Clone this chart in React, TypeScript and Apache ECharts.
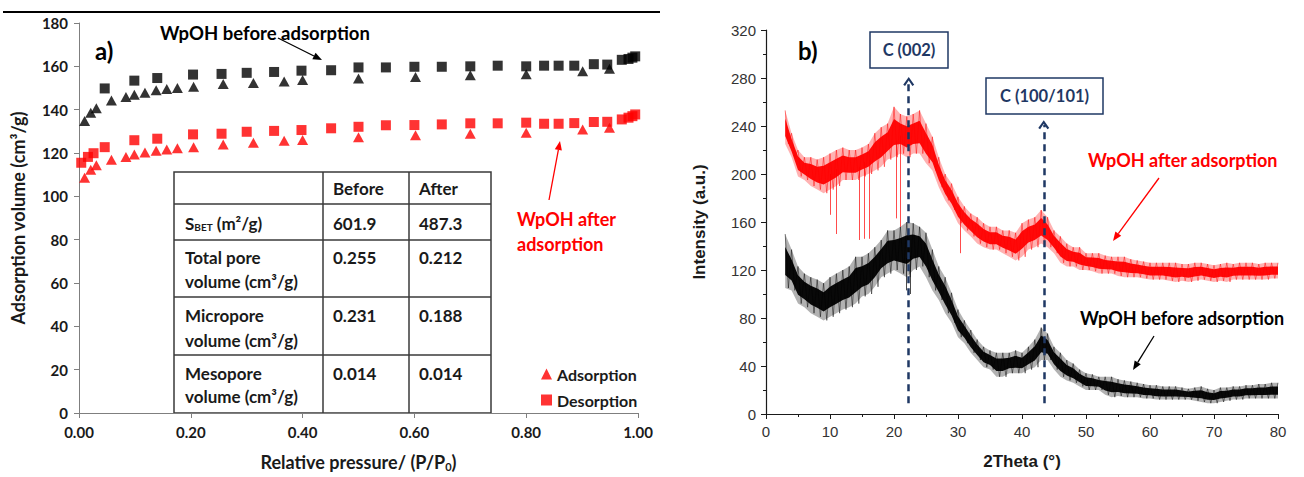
import React, { useEffect, useRef } from "react";
import * as echarts from "echarts";

// ---------- Panel a) N2 adsorption / desorption isotherms ----------
const adsorptionP = [0.01, 0.021, 0.031, 0.058, 0.084, 0.099, 0.118, 0.138, 0.157, 0.176, 0.205, 0.258, 0.312, 0.367, 0.4, 0.5, 0.602, 0.7, 0.8, 0.901, 0.949];
const beforeAdsorptionV = [134.8, 138.6, 140.6, 144.2, 145.9, 146.9, 147.8, 149.0, 149.5, 150.0, 150.6, 151.9, 152.3, 153.0, 153.7, 154.4, 155.1, 155.9, 156.3, 157.7, 158.9];
const afterAdsorptionV = [108.6, 112.3, 114.3, 116.9, 118.2, 119.3, 120.2, 121.0, 121.6, 122.2, 122.7, 123.9, 124.7, 125.6, 126.0, 127.3, 128.2, 128.9, 129.4, 130.9, 131.7];

const beforeDesorptionP = [0.046, 0.099, 0.14, 0.204, 0.255, 0.3, 0.349, 0.398, 0.451, 0.5, 0.549, 0.6, 0.649, 0.7, 0.749, 0.8, 0.832, 0.858, 0.886, 0.921, 0.945, 0.971, 0.983, 0.99, 0.995];
const beforeDesorptionV = [149.8, 153.4, 154.6, 156.2, 156.5, 157.0, 157.4, 158.0, 158.2, 159.5, 159.5, 159.8, 159.8, 160.0, 160.3, 160.0, 160.3, 160.3, 160.3, 161.0, 160.8, 163.0, 163.4, 164.0, 164.6];
const afterDesorptionP = [0.004, 0.016, 0.026, 0.046, 0.099, 0.14, 0.204, 0.255, 0.3, 0.349, 0.398, 0.451, 0.5, 0.549, 0.6, 0.649, 0.7, 0.749, 0.8, 0.832, 0.858, 0.886, 0.921, 0.945, 0.971, 0.983, 0.99, 0.995];
const afterDesorptionV = [115.5, 118.2, 119.9, 122.7, 125.9, 126.6, 128.6, 128.9, 129.8, 130.2, 130.6, 131.4, 132.1, 132.8, 132.9, 133.2, 133.7, 133.7, 134.0, 133.5, 133.5, 133.8, 134.3, 134.4, 135.5, 136.3, 137.0, 137.8];

const tableHeader = ["Before", "After"];
const tableLabels = [["{n|S}{s|BET}{n| (m²/g)}"], ["Total pore", "volume (cm³/g)"], ["Micropore", "volume (cm³/g)"], ["Mesopore", "volume (cm³/g)"]];
const tableBefore = ["601.9", "0.255", "0.231", "0.014"];
const tableAfter = ["487.3", "0.212", "0.188", "0.014"];

// ---------- Panel b) XRD patterns (upper / lower noise envelope per degree) ----------
const xrdAngles = [3, 4, 5, 6, 7, 8, 9, 10, 11, 12, 13, 14, 15, 16, 17, 18, 19, 20, 21, 22, 23, 24, 25, 26, 27, 28, 29, 30, 31, 32, 33, 34, 35, 36, 37, 38, 39, 40, 41, 42, 43, 44, 45, 46, 47, 48, 49, 50, 51, 52, 53, 54, 55, 56, 57, 58, 59, 60, 61, 62, 63, 64, 65, 66, 67, 68, 69, 70, 71, 72, 73, 74, 75, 76, 77, 78, 79, 80];
const afterHigh = [253, 234, 220, 214, 214, 212, 214, 217, 220, 222,
  220, 220, 222, 225, 234, 239, 242, 256, 250, 248,
  250, 253, 242, 231, 214, 200, 192, 181, 173, 167,
  164, 159, 156, 156, 153, 153, 151, 159, 162, 164,
  170, 164, 153, 148, 142, 139, 139, 134, 134, 134,
  132, 131, 131, 131, 129, 128, 127, 126, 126, 126,
  126, 126, 125, 125, 126, 126, 125, 124, 125, 126,
  125, 126, 126, 126, 125, 126, 126, 126];
const afterLow = [225, 214, 198, 195, 190, 187, 184, 187, 190, 195,
  195, 195, 198, 200, 203, 206, 212, 214, 217, 214,
  217, 217, 209, 203, 189, 178, 170, 159, 153, 148,
  142, 139, 137, 137, 134, 131, 128, 131, 137, 139,
  142, 139, 134, 126, 123, 123, 120, 120, 119, 117,
  117, 117, 115, 114, 114, 114, 113, 112, 112, 112,
  111, 110, 111, 110, 111, 112, 111, 110, 111, 110,
  112, 112, 112, 112, 112, 112, 113, 113];
const beforeHigh = [150, 137, 123, 117, 114, 112, 109, 114, 117, 120,
  123, 131, 131, 134, 139, 145, 153, 153, 156, 160,
  159, 156, 151, 137, 123, 114, 101, 87, 78, 70,
  62, 56, 53, 51, 51, 51, 53, 51, 56, 62,
  72, 67, 56, 51, 45, 42, 37, 34, 33, 31,
  31, 31, 29, 28, 27, 26, 25, 24, 24, 23,
  23, 23, 22, 21, 22, 23, 21, 20, 22, 22,
  23, 23, 24, 24, 25, 25, 26, 26];
const beforeLow = [105, 103, 92, 89, 84, 81, 78, 81, 84, 87,
  89, 92, 98, 100, 106, 114, 117, 120, 117, 114,
  120, 123, 114, 103, 95, 84, 76, 64, 59, 51,
  45, 39, 37, 31, 31, 34, 34, 34, 37, 39,
  45, 45, 37, 31, 28, 26, 23, 20, 20, 20,
  16, 14, 15, 14, 14, 14, 13, 13, 12, 12,
  12, 12, 12, 12, 11, 10, 9, 9, 10, 11,
  12, 12, 13, 13, 13, 13, 13, 13];

// isolated downward spikes of the noisy traces
const afterSpikeAngles = [10.1, 10.9, 14.5, 15.3, 16.2, 20.3, 20.9, 30.3];
const afterSpikeTops = [200, 204, 206, 210, 212, 228, 232, 170];
const afterSpikeLows = [166, 150, 145, 146, 146, 163, 156, 134];
const beforeSpikeAngles = [21.9, 22.6];
const beforeSpikeTops = [130, 132];
const beforeSpikeLows = [103, 100];

const peakAngles = [22.3, 43.4];
const peakArrowTops = [277, 241];
const peakBottom = 9;
const peakNames = ["C (002)", "C (100/101)"];

const CAL = "Lato, 'Open Sans', sans-serif";
const ARIAL = "'Liberation Sans', Arial, sans-serif";
const NAVY = "#1F3864";

function pairs(xs: number[], ys: number[]) {
  return xs.map((x, i) => [x, ys[i]]);
}

function zigzag(angles: number[], hi: number[], lo: number[]) {
  const out: number[][] = [];
  angles.forEach((a, i) => {
    out.push([a, hi[i]]);
    if (i < angles.length - 1) out.push([a + 0.5, lo[i]]);
  });
  return out;
}

// custom series: light outer noise band + solid core band, through the axis scales
function bandSeries(name: string, color: string, hi: number[], lo: number[]) {
  const coreHi = hi.map((h, i) => lo[i] + (h - lo[i]) * 0.76);
  const coreLo = hi.map((h, i) => lo[i] + (h - lo[i]) * 0.24);
  return {
    name, type: "custom", xAxisIndex: 1, yAxisIndex: 1, silent: true,
    data: [[xrdAngles[0], lo[0]]],
    renderItem: (_p: any, api: any) => {
      const poly = (top: number[], bot: number[]) => [
        ...xrdAngles.map((a, i) => api.coord([a, top[i]])),
        ...xrdAngles.map((a, i) => api.coord([a, bot[i]])).reverse(),
      ];
      return {
        type: "group",
        children: [
          { type: "polygon", shape: { points: poly(hi, lo) }, style: { fill: color, opacity: 0.3 } },
          { type: "polygon", shape: { points: poly(coreHi, coreLo) }, style: { fill: color, opacity: 0.95 } },
        ],
      };
    },
  };
}

function spikeLines(angles: number[], tops: number[], lows: number[], color: string) {
  return {
    silent: true,
    symbol: ["none", "none"],
    label: { show: false },
    lineStyle: { color, width: 1, type: "solid", opacity: 0.7 },
    data: angles.map((a, i) => [{ coord: [a, tops[i]] }, { coord: [a, lows[i]] }]),
  };
}

function arrow(x1: number, y1: number, x2: number, y2: number, color: string) {
  const dx = x2 - x1, dy = y2 - y1;
  const L = Math.hypot(dx, dy);
  const ux = dx / L, uy = dy / L;
  const head = 9, half = 3.6;
  const bx = x2 - ux * head, by = y2 - uy * head;
  return [
    { type: "line", silent: true, shape: { x1, y1, x2: bx, y2: by }, style: { stroke: color, lineWidth: 1.3 } },
    {
      type: "polygon", silent: true,
      shape: { points: [[x2, y2], [bx - uy * half, by + ux * half], [bx + uy * half, by - ux * half]] },
      style: { fill: color },
    },
  ];
}

function txt(x: number, y: number, text: string, o: any = {}) {
  return {
    type: "text", x, y, silent: true,
    style: {
      text,
      fontFamily: o.family || CAL,
      fontWeight: o.weight || "bold",
      fontSize: o.size || 17,
      fill: o.color || "#1a1a1a",
      align: o.align || "left",
      verticalAlign: "middle",
      rich: o.rich,
    },
  };
}

export default function App() {
  const ref = useRef<HTMLDivElement>(null);

  useEffect(() => {
    document.body.style.margin = "0";
    if (!ref.current) return;
    const chart = echarts.init(ref.current, undefined, { renderer: "svg" });

    // table geometry
    const tL = 174, tR = 491, tT = 172, tB = 413;
    const cols = [323, 409];
    const rows = [204, 240, 297, 355];
    const rowTextY = [[223], [257, 281], [315, 340], [373, 396]];
    const tableGraphics: any[] = [
      { type: "rect", silent: true, shape: { x: tL, y: tT, width: tR - tL, height: tB - tT }, style: { fill: "#fff", stroke: "#3a3a3a", lineWidth: 1.5 } },
      ...cols.map((c) => ({ type: "line", silent: true, shape: { x1: c, y1: tT, x2: c, y2: tB }, style: { stroke: "#3a3a3a", lineWidth: 1.5 } })),
      ...rows.map((r) => ({ type: "line", silent: true, shape: { x1: tL, y1: r, x2: tR, y2: r }, style: { stroke: "#3a3a3a", lineWidth: 1.5 } })),
      txt(cols[0] + 10, 188, tableHeader[0]),
      txt(cols[1] + 10, 188, tableHeader[1]),
    ];
    const rich = {
      n: { fontFamily: CAL, fontWeight: "bold", fontSize: 17, color: "#1a1a1a" },
      s: { fontFamily: CAL, fontWeight: "bold", fontSize: 10, color: "#1a1a1a", verticalAlign: "bottom", padding: [8, 0, 0, 0] },
    };
    tableLabels.forEach((lines, i) => {
      lines.forEach((line, j) => {
        tableGraphics.push(txt(tL + 11, rowTextY[i][j], line, i === 0 ? { rich } : {}));
      });
      tableGraphics.push(txt(cols[0] + 10, rowTextY[i][0], tableBefore[i]));
      tableGraphics.push(txt(cols[1] + 10, rowTextY[i][0], tableAfter[i]));
    });

    const boxes = [
      { x: 870, y: 32, w: 78, h: 36 },
      { x: 986, y: 78, w: 117, h: 36 },
    ];

    const option: any = {
      animation: false,
      backgroundColor: "#ffffff",
      grid: [
        { left: 79, top: 23, width: 559, height: 395 },
        { left: 766, top: 30, width: 512, height: 384 },
      ],
      legend: {
        orient: "vertical",
        left: 536,
        top: 361,
        itemWidth: 11,
        itemHeight: 11,
        itemGap: 10,
        selectedMode: false,
        data: [
          { name: "Adsorption", icon: "triangle" },
          { name: "Desorption", icon: "rect" },
        ],
        textStyle: { fontFamily: CAL, fontWeight: "bold", fontSize: 16, color: "#1a1a1a", lineHeight: 16 },
      },
      xAxis: [
        {
          type: "value", gridIndex: 0, min: 0, max: 1, interval: 0.2,
          axisLine: { lineStyle: { color: "#7f7f7f", width: 1 } },
          axisTick: { show: true, length: 5, lineStyle: { color: "#7f7f7f" } },
          splitLine: { show: false },
          axisLabel: { formatter: (v: number) => v.toFixed(2), fontFamily: CAL, fontWeight: "bold", fontSize: 15, color: "#1a1a1a", margin: 11 },
          name: "Relative pressure/ (P/P{sub|0})",
          nameLocation: "middle",
          nameGap: 38,
          nameTextStyle: {
            fontFamily: CAL, fontWeight: "bold", fontSize: 18, color: "#1a1a1a",
            rich: { sub: { fontFamily: CAL, fontWeight: "bold", fontSize: 11, color: "#1a1a1a", verticalAlign: "bottom", padding: [10, 0, 0, 0] } },
          },
        },
        {
          type: "value", gridIndex: 1, min: 0, max: 80, interval: 10,
          axisLine: { lineStyle: { color: "#1a1a1a", width: 1.2 } },
          axisTick: { show: true, length: 5, lineStyle: { color: "#1a1a1a" } },
          minorTick: { show: true, splitNumber: 2, length: 3, lineStyle: { color: "#1a1a1a" } },
          splitLine: { show: false },
          axisLabel: { fontFamily: ARIAL, fontSize: 15, color: "#333", margin: 10 },
          name: "2Theta (°)",
          nameLocation: "middle",
          nameGap: 39,
          nameTextStyle: { fontFamily: ARIAL, fontWeight: "bold", fontSize: 17, color: "#1a1a1a" },
        },
      ],
      yAxis: [
        {
          type: "value", gridIndex: 0, min: 0, max: 180, interval: 20,
          axisLine: { show: true, lineStyle: { color: "#7f7f7f", width: 1 } },
          axisTick: { show: true, length: 5, lineStyle: { color: "#7f7f7f" } },
          splitLine: { show: false },
          axisLabel: { fontFamily: CAL, fontWeight: "bold", fontSize: 15, color: "#1a1a1a", margin: 11 },
          name: "Adsorption volume (cm³/g)",
          nameLocation: "middle",
          nameGap: 52,
          nameTextStyle: { fontFamily: CAL, fontWeight: "bold", fontSize: 18, color: "#1a1a1a" },
        },
        {
          type: "value", gridIndex: 1, min: 0, max: 320, interval: 40,
          axisLine: { show: true, lineStyle: { color: "#1a1a1a", width: 1.2 } },
          axisTick: { show: true, length: 5, lineStyle: { color: "#1a1a1a" } },
          minorTick: { show: true, splitNumber: 2, length: 3, lineStyle: { color: "#1a1a1a" } },
          splitLine: { show: false },
          axisLabel: { fontFamily: ARIAL, fontSize: 15, color: "#333", margin: 10 },
          name: "Intensity (a.u.)",
          nameLocation: "middle",
          nameGap: 58,
          nameTextStyle: { fontFamily: ARIAL, fontWeight: "bold", fontSize: 17, color: "#1a1a1a" },
        },
      ],
      series: [
        {
          name: "Adsorption", type: "scatter", xAxisIndex: 0, yAxisIndex: 0,
          symbol: "triangle", symbolSize: [11, 10], itemStyle: { color: "#ff0000" },
          data: pairs(adsorptionP, afterAdsorptionV),
        },
        {
          name: "Desorption", type: "scatter", xAxisIndex: 0, yAxisIndex: 0,
          symbol: "rect", symbolSize: 10, itemStyle: { color: "#ff0000" },
          data: pairs(afterDesorptionP, afterDesorptionV),
        },
        {
          name: "Adsorption before", type: "scatter", xAxisIndex: 0, yAxisIndex: 0,
          symbol: "triangle", symbolSize: [11, 10], itemStyle: { color: "#000000" },
          data: pairs(adsorptionP, beforeAdsorptionV),
        },
        {
          name: "Desorption before", type: "scatter", xAxisIndex: 0, yAxisIndex: 0,
          symbol: "rect", symbolSize: 10, itemStyle: { color: "#000000" },
          data: pairs(beforeDesorptionP, beforeDesorptionV),
        },
        bandSeries("after band", "#ff0000", afterHigh, afterLow),
        {
          name: "WpOH after adsorption", type: "line", xAxisIndex: 1, yAxisIndex: 1,
          showSymbol: false, symbol: "none", lineStyle: { color: "#ff0000", width: 0.8, opacity: 0.6 },
          data: zigzag(xrdAngles, afterHigh, afterLow),
          markLine: spikeLines(afterSpikeAngles, afterSpikeTops, afterSpikeLows, "#ff0000"),
        },
        bandSeries("before band", "#000000", beforeHigh, beforeLow),
        {
          name: "WpOH before adsorption", type: "line", xAxisIndex: 1, yAxisIndex: 1,
          showSymbol: false, symbol: "none", lineStyle: { color: "#000000", width: 0.8, opacity: 0.6 },
          data: zigzag(xrdAngles, beforeHigh, beforeLow),
          markLine: spikeLines(beforeSpikeAngles, beforeSpikeTops, beforeSpikeLows, "#000000"),
        },
        {
          name: "peaks", type: "line", xAxisIndex: 1, yAxisIndex: 1, data: [], z: 5,
          markLine: {
            silent: true,
            symbol: ["none", "path://M0,9 L6,0 L12,9 L10,10.5 L6,4 L2,10.5 Z"],
            symbolSize: [11, 9],
            label: { show: false },
            lineStyle: { color: NAVY, width: 2.5, type: [7, 5] },
            data: peakAngles.map((a, i) => [{ coord: [a, peakBottom] }, { coord: [a, peakArrowTops[i]] }]),
          },
        },
      ],
      graphic: [
        { type: "line", silent: true, shape: { x1: 3, y1: 12, x2: 660, y2: 12 }, style: { stroke: "#000", lineWidth: 2 } },
        txt(95, 50, "a)", { size: 24, color: "#000" }),
        txt(160, 33, "WpOH before adsorption", { size: 18.5, color: "#000" }),
        ...arrow(278, 38, 322, 60, "#000"),
        txt(517, 219, "WpOH after", { size: 18, color: "#ff0000" }),
        txt(517, 244, "adsorption", { size: 18, color: "#ff0000" }),
        ...arrow(549, 200, 560, 141, "#ff0000"),
        ...tableGraphics,
        txt(798, 50, "b)", { size: 24, color: "#000" }),
        ...boxes.flatMap((b, i) => [
          { type: "rect", silent: true, shape: { x: b.x, y: b.y, width: b.w, height: b.h }, style: { fill: "#fff", stroke: NAVY, lineWidth: 1.5 } },
          txt(b.x + b.w / 2, b.y + b.h / 2, peakNames[i], { size: 16.5, color: NAVY, align: "center" }),
        ]),
        txt(1088, 160, "WpOH after adsorption", { size: 18, color: "#ff0000" }),
        ...arrow(1159, 178, 1113, 241, "#ff0000"),
        txt(1080, 318, "WpOH before adsorption", { size: 18, color: "#000" }),
        ...arrow(1154, 336, 1133, 370, "#000"),
      ],
    };

    chart.setOption(option);
    return () => chart.dispose();
  }, []);

  return <div ref={ref} style={{ width: 1304, height: 477 }} />;
}
